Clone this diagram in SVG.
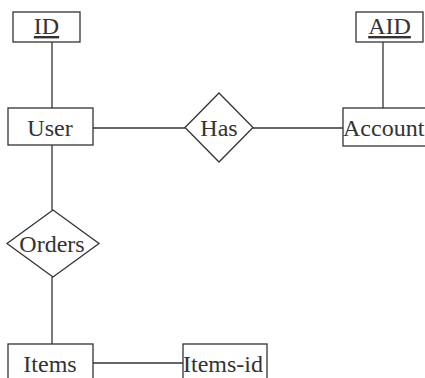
<svg xmlns="http://www.w3.org/2000/svg" width="425" height="378" viewBox="0 0 425 378">
<style>
.s{fill:#fff;stroke:#333;stroke-width:1.3}
.c{stroke:#333;stroke-width:1.3;fill:none}
text{font-family:"Liberation Serif","Times New Roman",serif;font-size:24px;fill:#333}
.m{text-anchor:middle}
</style>
<rect width="425" height="378" fill="#fff"/>
<g id="connectors">
<line class="c" x1="52" y1="42" x2="52" y2="108"/>
<line class="c" x1="383" y1="42" x2="383" y2="108"/>
<line class="c" x1="93" y1="128" x2="185" y2="128"/>
<line class="c" x1="253" y1="128" x2="343" y2="128"/>
<line class="c" x1="52" y1="145" x2="52" y2="210"/>
<line class="c" x1="52" y1="277" x2="52" y2="344"/>
<line class="c" x1="93" y1="363" x2="183" y2="363"/>
</g>
<g id="ID">
<rect class="s" x="13" y="12" width="67" height="30"/>
<text class="m" x="46.5" y="34" text-decoration="underline">ID</text>
</g>
<g id="AID">
<rect class="s" x="356" y="12" width="67" height="30"/>
<text class="m" x="389.5" y="34" text-decoration="underline">AID</text>
</g>
<g id="User">
<rect class="s" x="8" y="108" width="85" height="37"/>
<text class="m" x="50" y="136">User</text>
</g>
<g id="Has">
<polygon class="s" points="219,93 253,127.5 219,162 185,127.5"/>
<text class="m" x="219" y="136">Has</text>
</g>
<g id="Account">
<rect class="s" x="343" y="108" width="90" height="38"/>
<text x="343" y="136">Account</text>
</g>
<g id="Orders">
<polygon class="s" points="53,210 99,243.5 53,277 7,243.5"/>
<text class="m" x="52" y="252">Orders</text>
</g>
<g id="Items">
<rect class="s" x="8" y="344" width="85" height="40"/>
<text class="m" x="50" y="372">Items</text>
</g>
<g id="Items-id">
<rect class="s" x="183" y="344" width="84" height="40"/>
<text x="183" y="372">Items-id</text>
</g>
</svg>
